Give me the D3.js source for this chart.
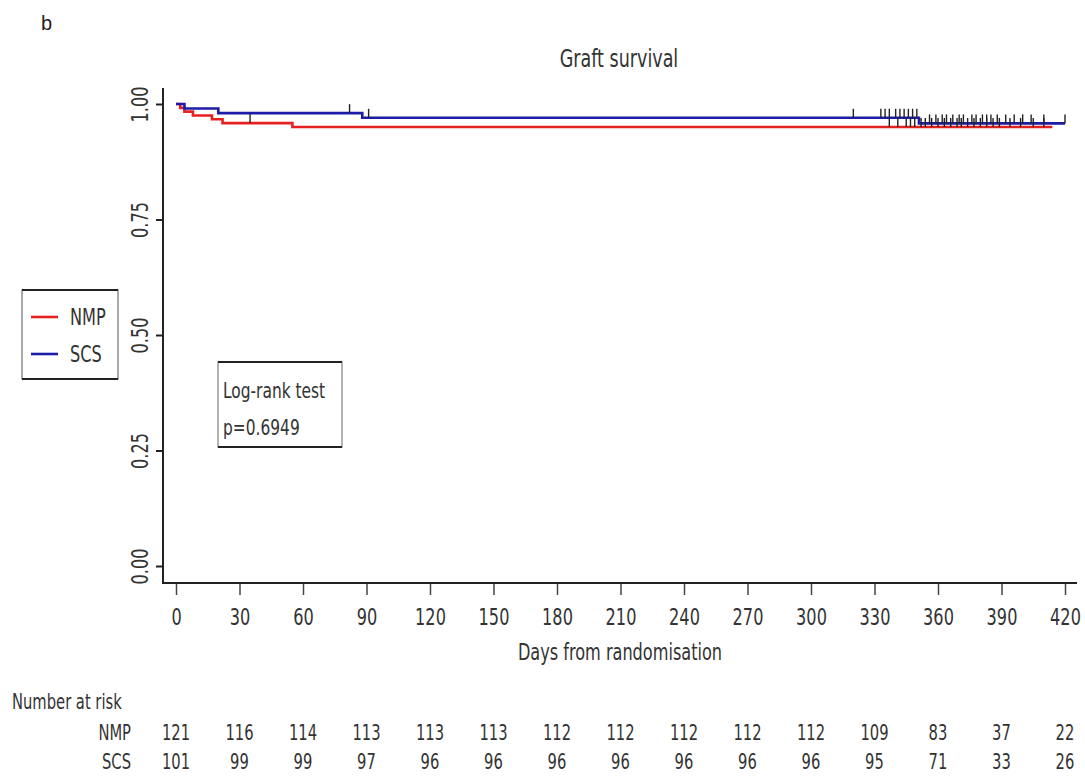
<!DOCTYPE html>
<html>
<head>
<meta charset="utf-8">
<script src="https://cdn.jsdelivr.net/npm/d3@7"></script>
<style>
  body { margin: 0; background: #fff; }
  svg text { font-family: "DejaVu Sans Condensed", "Liberation Sans Narrow", "Open Sans", sans-serif; fill: #333; }
</style>
</head>
<body>
<div id="plot_area"></div>
<script>
// Canvas size
const w = 1085;
const h = 776;
// text is squeezed sideways to look like the narrow original font
const squeeze = 0.78;

// Kaplan-Meier steps (day, survival)
const nmpTime = [0, 2, 4, 8, 17, 22, 55, 414];
const nmpSurv = [1, 0.9917, 0.9835, 0.9752, 0.9669, 0.9587, 0.9503, 0.9503];
const scsTime = [0, 4, 20, 88, 351, 420];
const scsSurv = [1, 0.9901, 0.9802, 0.9702, 0.958, 0.958];

// Censoring marks (days)
const nmpCens = [35, 337, 341, 345, 347, 349, 352, 354, 357, 360, 363, 366, 369, 371, 374, 377, 380, 383, 386, 389, 394, 399, 405, 410];
const scsCens = [82, 91, 320, 333, 335, 337, 340, 342, 344, 346, 348, 350, 356, 359, 362, 364, 367, 370, 372, 376, 378, 381, 383, 385, 388, 392, 396, 400, 404, 410, 420];

// Axis ticks and number at risk table
const xTicks = [0, 30, 60, 90, 120, 150, 180, 210, 240, 270, 300, 330, 360, 390, 420];
const yTicks = [0, 0.25, 0.5, 0.75, 1];
const nmpRisk = [121, 116, 114, 113, 113, 113, 112, 112, 112, 112, 112, 109, 83, 37, 22];
const scsRisk = [101, 99, 99, 97, 96, 96, 96, 96, 96, 96, 96, 95, 71, 33, 26];

const groups = ['NMP', 'SCS'];
const colours = ['#e4211f', '#1c1ca8'];

const xScale = d3.scaleLinear().domain([0, 420]).range([176, 1065]);
const yScale = d3.scaleLinear().domain([0, 1]).range([566, 104]);

const svg = d3.select('#plot_area')
  .append('svg')
  .attr('width', w)
  .attr('height', h);

// helper for narrow text
function label(parent, x, y, str, size, anchor) {
  return parent.append('text')
    .attr('transform', 'translate(' + x + ',' + y + ') scale(' + squeeze + ',1)')
    .attr('text-anchor', anchor || 'start')
    .style('font-size', size + 'px')
    .text(str);
}

// panel letter and title
svg.append('text')
  .attr('x', 41).attr('y', 30)
  .style('font-family', '"Liberation Sans", Arial, sans-serif')
  .style('font-size', '20px')
  .style('fill', '#222')
  .text('b');

label(svg, 619, 67, 'Graft survival', 25, 'middle');

// L-shaped frame
svg.append('path')
  .attr('d', 'M163,88V583H1077')
  .attr('fill', 'none')
  .attr('stroke', '#222')
  .attr('stroke-width', 2);

// x axis
const xAxis = svg.append('g')
  .attr('transform', 'translate(0,584)')
  .call(d3.axisBottom(xScale).tickValues(xTicks).tickSize(11).tickPadding(14));
xAxis.select('.domain').remove();
xAxis.selectAll('line').attr('stroke', '#444').attr('stroke-width', 1.5);
xAxis.selectAll('text')
  .attr('transform', 'scale(' + squeeze + ',1)')
  .style('font-size', '23px').attr('fill', '#333');

// y axis
const yAxis = svg.append('g')
  .attr('transform', 'translate(163,0)')
  .call(d3.axisLeft(yScale).tickValues(yTicks).tickSize(7).tickFormat(d3.format('.2f')));
yAxis.select('.domain').remove();
yAxis.selectAll('line').attr('stroke', '#222').attr('stroke-width', 2);
yAxis.selectAll('text')
  .attr('x', null).attr('dy', null)
  .attr('transform', 'translate(-15,0) rotate(-90) scale(' + squeeze + ',1)')
  .attr('text-anchor', 'middle')
  .style('font-size', '23px')
  .attr('fill', '#333');

label(svg, 620, 660, 'Days from randomisation', 23, 'middle');

// survival curves
const stepLine = d3.line()
  .x((d) => xScale(d[0]))
  .y((d) => yScale(d[1]))
  .curve(d3.curveStepAfter);

const curves = [
  { time: nmpTime, surv: nmpSurv, cens: nmpCens },
  { time: scsTime, surv: scsSurv, cens: scsCens }
];

curves.forEach(function (c, i) {
  const pts = c.time.map((t, j) => [t, c.surv[j]]);
  svg.append('path')
    .datum(pts)
    .attr('fill', 'none')
    .attr('stroke', colours[i])
    .attr('stroke-width', 2.6)
    .attr('d', stepLine);
});

// censor ticks drawn on top
curves.forEach(function (c, i) {
  const survAt = (t) => {
    let s = c.surv[0];
    c.time.forEach((tt, j) => { if (tt <= t) s = c.surv[j]; });
    return s;
  };
  svg.append('g')
    .selectAll('line')
    .data(c.cens)
    .join('line')
    .attr('x1', (d) => xScale(d))
    .attr('x2', (d) => xScale(d))
    .attr('y1', (d) => yScale(survAt(d)))
    .attr('y2', (d) => yScale(survAt(d)) - 9)
    .attr('stroke', '#222')
    .attr('stroke-width', 1.4);
});

// legend
const legend = svg.append('g');
legend.append('rect')
  .attr('x', 22).attr('y', 290).attr('width', 96).attr('height', 89)
  .attr('fill', '#fff').attr('stroke', '#555').attr('stroke-width', 1);
legend.append('path')
  .attr('d', 'M22,290H118M22,379H118')
  .attr('stroke', '#222').attr('stroke-width', 2);
groups.forEach(function (g, i) {
  const yy = 317 + i * 37;
  legend.append('line')
    .attr('x1', 31).attr('x2', 58).attr('y1', yy).attr('y2', yy)
    .attr('stroke', colours[i]).attr('stroke-width', 2.6);
  label(legend, 70, yy + 8, g, 23);
});

// log-rank annotation
const lr = svg.append('g');
lr.append('rect')
  .attr('x', 218).attr('y', 362).attr('width', 124).attr('height', 85)
  .attr('fill', '#fff').attr('stroke', '#666').attr('stroke-width', 1);
lr.append('path')
  .attr('d', 'M218,362H342M218,447H342')
  .attr('stroke', '#222').attr('stroke-width', 2);
label(lr, 223, 398, 'Log-rank test', 22);
label(lr, 223, 435, 'p=0.6949', 22);

// number at risk table
label(svg, 12, 709, 'Number at risk', 21);

[nmpRisk, scsRisk].forEach(function (row, i) {
  const yy = 740 + i * 29;
  label(svg, 131, yy, groups[i], 21, 'end');
  row.forEach(function (d, j) {
    label(svg, xScale(xTicks[j]), yy, d, 21, 'middle');
  });
});
</script>
</body>
</html>
